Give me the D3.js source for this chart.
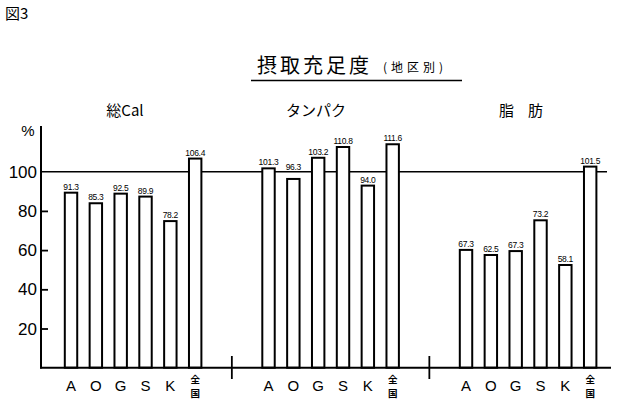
<!DOCTYPE html>
<html><head><meta charset="utf-8">
<script src="https://cdn.jsdelivr.net/npm/d3@7"></script>
<style>body{margin:0;background:#fff}svg{display:block}</style>
</head><body>
<script>
const groups = ["総Cal", "タンパク", "脂肪"];
const categories = ["A", "O", "G", "S", "K", "全国"];
const calValues = [89.3, 83.9, 88.8, 87.3, 74.8, 106.7];
const proteinValues = [101.7, 96.3, 107.1, 112.6, 92.9, 114.0];
const fatValues = [60.1, 57.5, 59.5, 75.2, 52.4, 102.6];
const calLabels = ["91.3", "85.3", "92.5", "89.9", "78.2", "106.4"];
const proteinLabels = ["101.3", "96.3", "103.2", "110.8", "94.0", "111.6"];
const fatLabels = ["67.3", "62.5", "67.3", "73.2", "58.1", "101.5"];
const yTicks = [20, 40, 60, 80, 100];

const series = [
  {name: groups[0], values: calValues, labels: calLabels},
  {name: groups[1], values: proteinValues, labels: proteinLabels},
  {name: groups[2], values: fatValues, labels: fatLabels}
];

const W = 617, H = 404;
const svg = d3.select("body").append("svg").attr("width", W).attr("height", H);
const jp = "'Noto Sans CJK JP', 'Noto Sans', sans-serif";
const sans = "'Liberation Sans', Arial, sans-serif";

const y = d3.scaleLinear().domain([0, 100]).range([367.7, 171.7]);
const gx = d3.scaleBand().domain(groups).range([58.6, 58.6 + 3 * 197.5]);
const innerW = 149;
const ix = d3.scaleBand().domain(categories).range([0, innerW]).paddingInner(0.5).paddingOuter(0.25);

// header
svg.append("text").attr("x", 5).attr("y", 19).attr("font-family", jp).attr("font-size", 15).text("図3");
svg.append("text").attr("x", 257).attr("y", 73).attr("font-family", jp).attr("font-size", 20)
  .attr("letter-spacing", 3).text("摂取充足度");
svg.append("text").attr("x", 383).attr("y", 72).attr("font-family", jp).attr("font-size", 12)
  .attr("letter-spacing", 4).text("(地区別)");
svg.append("line").attr("x1", 251).attr("x2", 462).attr("y1", 80.5).attr("y2", 80.5)
  .attr("stroke", "#000").attr("stroke-width", 1.6);

// group titles
const titleX = [125, 316, 528];
groups.forEach((g, i) => {
  svg.append("text").attr("x", titleX[i]).attr("y", 116).attr("text-anchor", "middle")
    .attr("font-family", jp).attr("font-size", 15)
    .attr("letter-spacing", i === 2 ? 14 : 0)
    .text(g);
});

// 100 reference line
svg.append("line").attr("x1", 41).attr("x2", 607).attr("y1", y(100)).attr("y2", y(100))
  .attr("stroke", "#000").attr("stroke-width", 1.4);

// y axis
const yAxis = d3.axisRight(y).tickValues(yTicks.filter(t => t < 100)).tickSize(7).tickFormat("");
const ya = svg.append("g").attr("transform", "translate(41,0)").call(yAxis);
ya.select(".domain").remove();
ya.selectAll(".tick line").attr("stroke", "#000").attr("stroke-width", 1.8);
svg.append("line").attr("x1", 41).attr("x2", 41).attr("y1", 126).attr("y2", 368.5)
  .attr("stroke", "#000").attr("stroke-width", 2);
yTicks.forEach(t => {
  svg.append("text").attr("x", 37).attr("y", y(t) + 6).attr("text-anchor", "end")
    .attr("font-family", sans).attr("font-size", 17).text(t);
});
svg.append("text").attr("x", 28).attr("y", 136).attr("text-anchor", "middle")
  .attr("font-family", sans).attr("font-size", 15).text("%");

// label position: keep labels clear of the 100 line
function labelY(v) {
  const top = y(v);
  const lineY = y(100);
  if (top > lineY && top - lineY < 12) return lineY - 2;
  return top - 3;
}

// bars
series.forEach(s => {
  const g = svg.append("g").attr("transform", `translate(${gx(s.name)},0)`);
  g.selectAll("rect").data(categories).join("rect")
    .attr("x", d => ix(d))
    .attr("y", (d, i) => y(s.values[i]))
    .attr("width", ix.bandwidth())
    .attr("height", (d, i) => y(0) - y(s.values[i]))
    .attr("fill", "#fff").attr("stroke", "#000").attr("stroke-width", 2);
  g.selectAll("text.v").data(categories).join("text").attr("class", "v")
    .attr("x", d => ix(d) + ix.bandwidth() / 2)
    .attr("y", (d, i) => labelY(s.values[i]))
    .attr("text-anchor", "middle").attr("font-family", sans).attr("font-size", 8.5)
    .attr("letter-spacing", -0.3)
    .text((d, i) => s.labels[i]);
  // category labels
  categories.forEach(c => {
    const cx = ix(c) + ix.bandwidth() / 2;
    if (c.length === 1) {
      g.append("text").attr("x", cx).attr("y", 391).attr("text-anchor", "middle")
        .attr("font-family", sans).attr("font-size", 15).text(c);
    } else {
      g.append("text").attr("x", cx).attr("y", 383).attr("text-anchor", "middle")
        .attr("font-family", jp).attr("font-size", 9.5).attr("font-weight", "bold").text(c[0]);
      g.append("text").attr("x", cx).attr("y", 397).attr("text-anchor", "middle")
        .attr("font-family", jp).attr("font-size", 9.5).attr("font-weight", "bold").text(c[1]);
    }
  });
});

// baseline
svg.append("line").attr("x1", 40).attr("x2", 611).attr("y1", y(0)).attr("y2", y(0))
  .attr("stroke", "#000").attr("stroke-width", 2);

// group dividers
groups.slice(1).forEach(gname => {
  const dx = gx(gname) - (gx.bandwidth() - innerW) / 2;
  svg.append("line").attr("x1", dx).attr("x2", dx).attr("y1", 356).attr("y2", 379)
    .attr("stroke", "#000").attr("stroke-width", 1.8);
});
</script>
</body></html>
